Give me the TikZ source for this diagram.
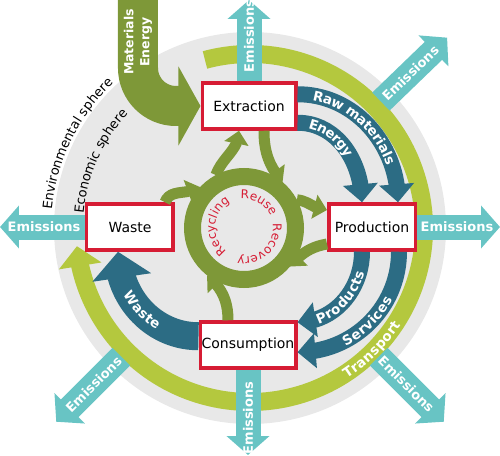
\documentclass[tikz,border=0pt]{standalone}
\usepackage{fontspec}
\setmainfont{DejaVu Sans}
\usepackage{tikz}
\usetikzlibrary{arrows.meta,bending,decorations.text}

\definecolor{olivegreen}{RGB}{126,152,56}
\definecolor{limegreen}{RGB}{180,200,62}
\definecolor{darkteal}{RGB}{44,108,132}
\definecolor{lightteal}{RGB}{104,196,196}
\definecolor{boxred}{RGB}{214,28,52}
\definecolor{spheregray}{RGB}{232,232,232}

\tikzset{
  stagebox/.style={draw=boxred, line width=3.5pt, fill=white, minimum height=46pt,
    inner sep=0pt, font=\fontsize{14}{16}\selectfont},
  emission/.style={lightteal, line width=25pt, -{Triangle[width=42pt,length=19pt]}},
  emitlabel/.style={text=white, font=\fontsize{13}{14}\selectfont\bfseries},
  flowarrow/.style={darkteal, line width=16pt, -{Triangle[width=34pt,length=18pt]}},
  cyclearrow/.style={olivegreen, line width=11pt, -{Triangle[width=24pt,length=13pt]}},
  arclabel/.style={decorate, decoration={text along path, text align=center, raise=-5pt,
    text={|\fontsize{13.5}{15}\selectfont\bfseries\color{white}|#1}}},
  spherelabel/.style={decorate, decoration={text along path, text align=center,
    text={|\fontsize{13}{15}\selectfont|#1}}},
  cyclelabel/.style={decorate, decoration={text along path, text align=center,
    text={|\fontsize{12}{14}\selectfont\color{boxred}|#1}}}
}

\begin{document}
\begin{tikzpicture}[x=1pt,y=1pt]
  \useasboundingbox (-250,-227) rectangle (250,228);
  \fill[spheregray] (0,0) circle[radius=196];
  \path[spherelabel=Environmental sphere] (186:199) arc[start angle=186, end angle=122, radius=199];
  \path[spherelabel=Economic sphere] (179:167) arc[start angle=179, end angle=133, radius=167];

  \draw[limegreen, line width=18pt, -{Triangle[width=42pt,length=20pt]}] (105:174) arc[start angle=105, end angle=-174, radius=174];
  \path[arclabel=Transport] (-75:174) arc[start angle=-75, end angle=-15, radius=174];

  \node[stagebox, minimum width=93.5pt] (ext) at (-1,122) {Extraction};
  \node[stagebox, minimum width=86.5pt] (prod) at (122,1) {Production};
  \node[stagebox, minimum width=95.5pt] (cons) at (-2,-117) {Consumption};
  \node[stagebox, minimum width=86.5pt] (waste) at (-120,1) {Waste};

  \coordinate (topTip) at (-1,228);
  \coordinate (rightTip) at (250,1);
  \coordinate (bottomTip) at (-2,-227);
  \coordinate (leftTip) at (-250,1);
  \coordinate (neTail) at (44:182);
  \coordinate (neTip) at (44:274);
  \coordinate (seTail) at (-45:182);
  \coordinate (seTip) at (-45:274);
  \coordinate (swTail) at (-135:182);
  \coordinate (swTip) at (-135:274);
  \draw[emission] (ext.north) -- (topTip);
  \draw[emission] (prod.east) -- (rightTip);
  \draw[emission] (cons.south) -- (bottomTip);
  \draw[emission] (waste.west) -- (leftTip);
  \draw[emission] (neTail) -- (neTip);
  \draw[emission] (seTail) -- (seTip);
  \draw[emission] (swTail) -- (swTip);
  \node[emitlabel, rotate=90] (emTop) at (-1,192) {Emissions};
  \node[emitlabel] (emRight) at (207,1) {Emissions};
  \node[emitlabel, rotate=90] (emBottom) at (-2,-190) {Emissions};
  \node[emitlabel] (emLeft) at (-206,1) {Emissions};
  \node[emitlabel, rotate=44] (emNE) at (44:223) {Emissions};
  \node[emitlabel, rotate=-45] (emSE) at (-45:221) {Emissions};
  \node[emitlabel, rotate=45] (emSW) at (-135:221) {Emissions};

  \node[circle, draw=olivegreen, line width=17pt, minimum size=103pt, inner sep=0pt] (ring) at (-6,0) {};
  \draw[cyclearrow] (ring.118) to[out=70, in=-90] ([xshift=-10pt]ext.south);
  \draw[cyclearrow] ([xshift=15pt]ext.south) to[out=-90, in=130] (ring.50);
  \draw[cyclearrow] (ring.28) to[out=-5, in=180] ([yshift=17pt]prod.west);
  \draw[cyclearrow] ([yshift=-17pt]prod.west) to[out=190, in=50] (ring.-40);
  \draw[cyclearrow] ([xshift=-20pt]cons.north) to[out=90, in=-40] (ring.-128);
  \draw[cyclearrow] ([xshift=-10pt]waste.north east) to[out=70, in=215] (ring.137);

  \draw[flowarrow] ([yshift=-13pt]ext.north east) to[out=0, in=90] ([xshift=-19pt]prod.north east);
  \draw[flowarrow] ([yshift=8pt]ext.south east) to[out=0, in=90] ([xshift=-55pt]prod.north east);
  \draw[flowarrow] ([xshift=-55pt]prod.south east) to[out=-90, in=0] ([yshift=-2pt]cons.north east);
  \draw[flowarrow] ([xshift=-18pt]prod.south east) to[out=-90, in=0] ([yshift=-32pt]cons.north east);
  \draw[darkteal, line width=28pt, -{Triangle[width=58pt,length=26pt]}] ([yshift=-16pt]cons.north west) to[out=180, in=-90] ([xshift=33pt]waste.south west);
  \path[arclabel=Raw materials, decoration={text align={left, left indent=16pt}}] ([yshift=-13pt]ext.north east) to[out=0, in=90] ([xshift=-19pt]prod.north east);
  \path[arclabel=Energy, decoration={text align={left, left indent=12pt}}] ([yshift=8pt]ext.south east) to[out=0, in=90] ([xshift=-55pt]prod.north east);
  \path[arclabel=Products] ([yshift=-2pt]cons.north east) to[out=0, in=-90] ([xshift=-55pt]prod.south east);
  \path[arclabel=Services] ([yshift=-32pt]cons.north east) to[out=0, in=-90] ([xshift=-18pt]prod.south east);
  \path[arclabel=Waste] ([xshift=33pt]waste.south west) to[out=-90, in=180] ([yshift=-16pt]cons.north west);

  \coordinate (matTop) at (-112,230);
  \draw[olivegreen, line width=40pt, -{Triangle[width=78pt,length=22pt]}] (matTop) -- (-112,160) arc[start angle=180, end angle=270, radius=38] -- (ext.west);
  \node[text=white, font=\fontsize{12.5}{16}\selectfont\bfseries, align=center, rotate=90] (matLabel) at (-112,186) {Materials\\Energy};

  \path[cyclelabel=Reuse] ([shift={(128:29)}]ring.center) arc[start angle=128, end angle=-8, radius=29];
  \path[cyclelabel=Recovery] ([shift={(14:29)}]ring.center) arc[start angle=14, end angle=-108, radius=29];
  \path[cyclelabel=Recycling] ([shift={(240:29)}]ring.center) arc[start angle=240, end angle=112, radius=29];
\end{tikzpicture}
\end{document}
